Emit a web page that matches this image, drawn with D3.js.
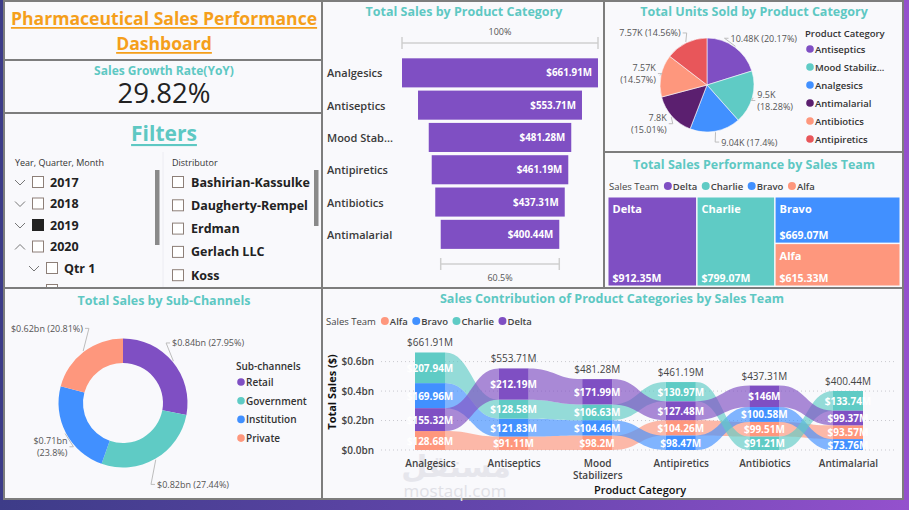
<!DOCTYPE html>
<html>
<head>
<meta charset="utf-8">
<script src="https://cdn.jsdelivr.net/npm/d3@7"></script>
<style>
html, body { margin: 0; padding: 0; }
body { width: 909px; height: 510px; overflow: hidden; background: linear-gradient(90deg, #3d3c88 0%, #6546ad 55%, #9451cd 100%); }
svg { display: block; font-family: "Open Sans", sans-serif; }
</style>
</head>
<body>
<svg id="chart" width="909" height="510"></svg>
<script>
// data
var categories = ['Analgesics', 'Antiseptics', 'Mood Stabilizers', 'Antipiretics', 'Antibiotics', 'Antimalarial'];
var categorySales = [661.91, 553.71, 481.28, 461.19, 437.31, 400.44]; // $M

var pieCategories = ['Antiseptics', 'Mood Stabilizers', 'Analgesics', 'Antimalarial', 'Antibiotics', 'Antipiretics'];
var unitsSold = ['10.48K', '9.5K', '9.04K', '7.8K', '7.57K', '7.57K'];
var unitsPct = [20.17, 18.28, 17.4, 15.01, 14.57, 14.56];

var teams = ['Delta', 'Charlie', 'Bravo', 'Alfa'];
var teamSales = [912.35, 799.07, 669.07, 615.33]; // $M

var subChannels = ['Retail', 'Government', 'Institution', 'Private'];
var channelSales = [0.84, 0.82, 0.71, 0.62]; // $bn
var channelPct = [27.95, 27.44, 23.8, 20.81];

var ribbonTeams = ['Alfa', 'Bravo', 'Charlie', 'Delta'];
var alfaSales = [128.68, 91.11, 98.2, 104.26, 99.51, 93.57];
var bravoSales = [169.96, 121.83, 104.46, 98.47, 100.58, 73.76];
var charlieSales = [207.94, 128.58, 106.63, 130.97, 91.21, 133.74];
var deltaSales = [155.32, 212.19, 171.99, 127.48, 146, 99.37];
var yTicks = [0, 0.2, 0.4, 0.6]; // $bn

var years = ['2017', '2018', '2019', '2020'];
var distributors = ['Bashirian-Kassulke', 'Daugherty-Rempel', 'Erdman', 'Gerlach LLC', 'Koss'];

var C = {purple: '#7f4fc3', teal: '#5fcbc5', blue: '#4190ff', dark: '#5b1f6f', salmon: '#fe977d', red: '#e8565a'};
var pieColors = [C.purple, C.teal, C.blue, C.dark, C.salmon, C.red];
var teamColor = {Delta: C.purple, Charlie: C.teal, Bravo: C.blue, Alfa: C.salmon};
var channelColors = [C.purple, C.teal, C.blue, C.salmon];
var titleCol = '#5ec8c3';

var svg = d3.select('#chart');

function text(g, x, y, s, o) {
  o = o || {};
  return g.append('text')
    .attr('x', x).attr('y', y)
    .attr('font-size', o.size || 10)
    .attr('font-weight', o.weight || 400)
    .attr('fill', o.fill || '#333')
    .attr('text-anchor', o.anchor || 'start')
    .attr('dominant-baseline', 'central')
    .text(s);
}

// cut a label with "..." until it fits
function fit(t, maxW) {
  var s = t.text();
  if (t.node().getComputedTextLength() <= maxW) return;
  while (s.length > 1) {
    s = s.slice(0, -1);
    t.text(s.trim() + '...');
    if (t.node().getComputedTextLength() <= maxW) return;
  }
}

function inlineLegend(g, x, y, title, names, cols) {
  var t = text(g, x, y, title, {size: 9.5, fill: '#444'});
  var cx = x + t.node().getComputedTextLength() + 9;
  names.forEach(function(n, i) {
    g.append('circle').attr('cx', cx).attr('cy', y).attr('r', 4).attr('fill', cols[i]);
    var tt = text(g, cx + 5, y, n, {size: 9.5, weight: 600, fill: '#444'});
    cx += 5 + tt.node().getComputedTextLength() + 8.5;
  });
}

function listLegend(g, x, y, title, names, cols, step, size, maxW) {
  text(g, x, y, title, {size: size, weight: 600, fill: '#333'});
  names.forEach(function(n, i) {
    var yy = y + 16 + i * step;
    g.append('circle').attr('cx', x + 5).attr('cy', yy).attr('r', 3.8).attr('fill', cols[i]);
    var t = text(g, x + 10, yy, n, {size: size, weight: 600, fill: '#333'});
    if (maxW) fit(t, maxW);
  });
}

// panels
var panels = [
  [4, 1, 318, 59], [4, 60, 318, 53], [4, 113, 318, 175],
  [322, 1, 282, 287], [604, 1, 299, 151], [604, 152, 299, 136],
  [4, 288, 318, 211], [322, 288, 581, 211]
];
svg.selectAll('rect.panel').data(panels).enter()
  .append('rect').attr('class', 'panel')
  .attr('x', d => d[0]).attr('y', d => d[1])
  .attr('width', d => d[2]).attr('height', d => d[3])
  .attr('fill', '#f9f9fc').attr('stroke', '#7d7d7d').attr('stroke-width', 2);

// ---------- title ----------
text(svg, 164, 18, 'Pharmaceutical Sales Performance', {size: 17.6, weight: 700, fill: '#f59f1b', anchor: 'middle'})
  .attr('text-decoration', 'underline');
text(svg, 164, 43, 'Dashboard', {size: 17.6, weight: 700, fill: '#f59f1b', anchor: 'middle'})
  .attr('text-decoration', 'underline');

// ---------- growth card ----------
text(svg, 164, 70, 'Sales Growth Rate(YoY)', {size: 12, weight: 700, fill: titleCol, anchor: 'middle'});
text(svg, 164, 92, '29.82%', {size: 27.5, fill: '#222', anchor: 'middle'});

// ---------- filters ----------
svg.append('clipPath').attr('id', 'fclip').append('rect').attr('x', 5).attr('y', 114).attr('width', 316).attr('height', 173);
var fl = svg.append('g').attr('clip-path', 'url(#fclip)');
text(fl, 164, 133, 'Filters', {size: 21, weight: 700, fill: titleCol, anchor: 'middle'})
  .attr('text-decoration', 'underline');
fl.append('line').attr('x1', 163).attr('x2', 163).attr('y1', 152).attr('y2', 287).attr('stroke', '#ececf2');

function chevron(g, x, y, up) {
  var d = up ? `M${x - 5},${y + 3}L${x},${y - 2}L${x + 5},${y + 3}` : `M${x - 5},${y - 2}L${x},${y + 3}L${x + 5},${y - 2}`;
  g.append('path').attr('d', d).attr('fill', 'none').attr('stroke', '#777').attr('stroke-width', 1);
}
function checkbox(g, x, y, on) {
  g.append('rect').attr('x', x + 0.5).attr('y', y - 5.5).attr('width', 11).attr('height', 11)
    .attr('fill', on ? '#222' : '#fff').attr('stroke', on ? '#222' : '#8d7f78');
}

text(fl, 15, 162, 'Year, Quarter, Month', {size: 9, fill: '#333'});
years.forEach(function(yr, i) {
  var y = 182 + i * 21.5;
  chevron(fl, 20, y, yr === '2020');
  checkbox(fl, 32, y, yr === '2019');
  text(fl, 50, y, yr, {size: 12.5, weight: 700, fill: '#222'});
});
chevron(fl, 34, 268, false);
checkbox(fl, 46, 268, false);
text(fl, 64, 268, 'Qtr 1', {size: 12.5, weight: 700, fill: '#222'});
checkbox(fl, 46, 290, false);
fl.append('rect').attr('x', 155).attr('y', 170).attr('width', 4.5).attr('height', 75).attr('fill', '#8a8a8a');

text(fl, 172, 162, 'Distributor', {size: 9, fill: '#333'});
distributors.forEach(function(n, i) {
  var y = 182 + i * 23.3;
  checkbox(fl, 172, y, false);
  text(fl, 191, y, n, {size: 12.5, weight: 700, fill: '#222'});
});
fl.append('rect').attr('x', 314).attr('y', 170).attr('width', 4.5).attr('height', 56).attr('fill', '#8a8a8a');

// ---------- funnel ----------
var fn = svg.append('g');
text(fn, 464, 11, 'Total Sales by Product Category', {size: 12.5, weight: 700, fill: titleCol, anchor: 'middle'});
var fxs = d3.scaleLinear().domain([0, d3.max(categorySales)]).range([0, 196]);
var fys = d3.scaleBand().domain(categories).range([56.7, 250.5]).paddingInner(0.1).paddingOuter(0.05);
var fcx = 500;

function bracket(g, w, y, lab, ly) {
  g.append('path').attr('d', `M${fcx - w / 2},${y - 6}V${y + 6}M${fcx - w / 2},${y}H${fcx + w / 2}M${fcx + w / 2},${y - 6}V${y + 6}`)
    .attr('fill', 'none').attr('stroke', '#cfcfcf').attr('stroke-width', 1.5);
  text(g, fcx, ly, lab, {size: 9, fill: '#555', anchor: 'middle'});
}
bracket(fn, fxs(categorySales[0]), 43, '100%', 31);
var last = categorySales[categorySales.length - 1];
bracket(fn, fxs(last), 264, (last / categorySales[0] * 100).toFixed(1) + '%', 277);

fn.selectAll('rect.fbar').data(categories).enter()
  .append('rect').attr('class', 'fbar')
  .attr('x', (d, i) => fcx - fxs(categorySales[i]) / 2)
  .attr('y', d => fys(d))
  .attr('width', (d, i) => fxs(categorySales[i]))
  .attr('height', fys.bandwidth())
  .attr('fill', C.purple);
categories.forEach(function(c, i) {
  var yc = fys(c) + fys.bandwidth() / 2;
  var t = text(fn, 327, yc, c, {size: 11, weight: 600, fill: '#3a3a3a'});
  fit(t, 67);
  text(fn, fcx + fxs(categorySales[i]) / 2 - 6, yc, '$' + categorySales[i] + 'M', {size: 9.8, weight: 700, fill: '#fff', anchor: 'end'});
});

// ---------- pie ----------
var pg = svg.append('g');
text(pg, 754, 11, 'Total Units Sold by Product Category', {size: 12.5, weight: 700, fill: titleCol, anchor: 'middle'});
var pcx = 707, pcy = 85, pr = 47;
var pie = d3.pie().sort(null).value(d => d);
var parcs = pie(unitsPct);
var parc = d3.arc().innerRadius(0).outerRadius(pr);
pg.selectAll('path.slice').data(parcs).enter()
  .append('path').attr('class', 'slice')
  .attr('transform', `translate(${pcx},${pcy})`)
  .attr('d', parc)
  .attr('fill', (d, i) => pieColors[i])
  .attr('stroke', '#f9f9fc').attr('stroke-width', 0.6);

// outside labels with leader lines; a label that would run into the legend slides back
function outsideLabels(g, arcs, cx, cy, r, rx, ry, maxX, lines) {
  arcs.forEach(function(a, i) {
    var m = (a.startAngle + a.endAngle) / 2;
    var s = Math.sin(m), c = Math.cos(m);
    var ax = cx + s * rx, ay = cy - c * ry;
    var right = s >= 0;
    var ex = ax + (right ? 4 : -4);
    var lead = g.append('path')
      .attr('fill', 'none').attr('stroke', '#bdbdbd').attr('stroke-width', 1);
    var ls = lines(i, s);
    var tx = ex + (right ? 2 : -2);
    var ts = ls.map(function(l, k) {
      return text(g, tx, ay + (k - (ls.length - 1) / 2) * 12, l,
        {size: 9, fill: '#555', anchor: right ? 'start' : 'end'});
    });
    if (right) {
      var w = d3.max(ts, t => t.node().getComputedTextLength());
      if (tx + w > maxX) {
        tx = maxX - w;
        ts.forEach(t => t.attr('x', tx));
        ax = Math.min(ax, tx - 6);
        ex = tx - 2;
      }
    }
    lead.attr('d', `M${cx + s * (r + 1)},${cy - c * (r + 1)}L${ax},${ay}L${ex},${ay}`);
  });
}
outsideLabels(pg, parcs, pcx, pcy, pr, 46, 58, 797, function(i, s) {
  var a = unitsSold[i], b = '(' + unitsPct[i] + '%)';
  return Math.abs(s) > 0.7 ? [a, b] : [a + ' ' + b];
});
listLegend(pg, 805, 33, 'Product Category', pieCategories, pieColors, 18, 9.5, 70);

// ---------- treemap ----------
var tg = svg.append('g');
text(tg, 754, 164, 'Total Sales Performance by Sales Team', {size: 12.5, weight: 700, fill: titleCol, anchor: 'middle'});
inlineLegend(tg, 609, 186, 'Sales Team', teams, teams.map(t => teamColor[t]));
var treeRoot = d3.hierarchy({children: [
  {name: teams[0], value: teamSales[0]},
  {name: teams[1], value: teamSales[1]},
  {children: [{name: teams[2], value: teamSales[2]}, {name: teams[3], value: teamSales[3]}]}
]}).sum(d => d.value || 0);
d3.treemap().size([291, 88]).tile(d3.treemapSliceDice).paddingInner(1.5)(treeRoot);
var tleaf = tg.append('g').attr('transform', 'translate(608.5,197.5)')
  .selectAll('g').data(treeRoot.leaves()).enter().append('g');
tleaf.append('rect')
  .attr('x', d => d.x0).attr('y', d => d.y0)
  .attr('width', d => d.x1 - d.x0).attr('height', d => d.y1 - d.y0)
  .attr('fill', d => teamColor[d.data.name]);
tleaf.append('text').attr('x', d => d.x0 + 4).attr('y', d => d.y0 + 11)
  .attr('dominant-baseline', 'central').attr('font-size', 11).attr('font-weight', 700).attr('fill', '#fff')
  .text(d => d.data.name);
tleaf.append('text').attr('x', d => d.x0 + 4).attr('y', d => d.y1 - 8)
  .attr('dominant-baseline', 'central').attr('font-size', 10.5).attr('font-weight', 700).attr('fill', '#fff')
  .text(d => '$' + d.data.value + 'M');

// ---------- donut ----------
var dg = svg.append('g');
text(dg, 164, 300, 'Total Sales by Sub-Channels', {size: 12.5, weight: 700, fill: titleCol, anchor: 'middle'});
var dcx = 123, dcy = 403, dr = 64.5;
var darcs = pie(channelPct);
var darc = d3.arc().innerRadius(40).outerRadius(dr);
dg.selectAll('path.dslice').data(darcs).enter()
  .append('path').attr('class', 'dslice')
  .attr('transform', `translate(${dcx},${dcy})`)
  .attr('d', darc)
  .attr('fill', (d, i) => channelColors[i]);
outsideLabels(dg, darcs, dcx, dcy, dr, 56, 94, 318, function(i, s) {
  var a = '$' + channelSales[i] + 'bn', b = '(' + channelPct[i] + '%)';
  return (s < -0.8) ? [a, b] : [a + ' ' + b];
});
listLegend(dg, 236, 366, 'Sub-channels', subChannels, channelColors, 18.7, 10);

// ---------- ribbon chart ----------
var rg = svg.append('g');
// site watermark
text(rg, 456, 466, 'مستقل', {size: 30, weight: 700, fill: '#e6e6ec', anchor: 'middle'}).attr('font-family', 'DejaVu Sans');
text(rg, 455, 490, 'mostaql.com', {size: 17, fill: '#e0e0e6', anchor: 'middle'});

text(rg, 612, 298, 'Sales Contribution of Product Categories by Sales Team', {size: 12.5, weight: 700, fill: titleCol, anchor: 'middle'});
inlineLegend(rg, 326, 321, 'Sales Team', ribbonTeams, ribbonTeams.map(t => teamColor[t]));

var rxs = d3.scalePoint().domain(categories).range([430, 848]);
var rys = d3.scaleLinear().domain([0, 0.6]).range([450, 361.6]);
var colW = 30;

// gridlines
rg.selectAll('line.grid').data(yTicks).enter()
  .append('line').attr('class', 'grid')
  .attr('x1', 381).attr('x2', 897)
  .attr('y1', d => rys(d)).attr('y2', d => rys(d))
  .attr('stroke', '#c9c9cf').attr('stroke-dasharray', '1,3');

var yAxis = d3.axisLeft(rys).tickValues(yTicks).tickSize(0).tickPadding(0)
  .tickFormat(d => '$' + d.toFixed(1) + 'bn');
var yag = rg.append('g').attr('transform', 'translate(374,0)').call(yAxis);
yag.select('.domain').remove();
yag.selectAll('text').attr('font-family', '"Open Sans", sans-serif').attr('font-size', 10)
  .attr('font-weight', 600).attr('fill', '#444');

var xAxis = d3.axisBottom(rxs).tickSize(0).tickPadding(0);
var xag = rg.append('g').attr('transform', 'translate(0,460)').call(xAxis);
xag.select('.domain').remove();
xag.selectAll('text').attr('font-family', '"Open Sans", sans-serif').attr('font-size', 10)
  .attr('font-weight', 600).attr('fill', '#444')
  .each(function(d) {
    var t = d3.select(this);
    if (this.getComputedTextLength() > 75) {
      var w = d.split(' ');
      t.text(null);
      w.forEach(function(p, k) { t.append('tspan').attr('x', 0).attr('dy', k ? '1.2em' : '0.71em').text(p); });
    }
  });

text(rg, 331, 392, 'Total Sales ($)', {size: 11, weight: 700, fill: '#111', anchor: 'middle'})
  .attr('transform', 'rotate(-90,331,392)');
text(rg, 640, 489, 'Product Category', {size: 11, weight: 600, fill: '#111', anchor: 'middle'});

// stack each column, smallest at the bottom
var series = {Alfa: alfaSales, Bravo: bravoSales, Charlie: charlieSales, Delta: deltaSales};
var stacks = categories.map(function(c, i) {
  var order = ribbonTeams.slice().sort((a, b) => series[a][i] - series[b][i]);
  var acc = 0, out = {};
  order.forEach(function(t) {
    out[t] = {y0: acc, y1: acc + series[t][i], v: series[t][i]};
    acc += series[t][i];
  });
  return out;
});

function ry(v) { return rys(v / 1000); }
function ribbonPath(xa, a, xb, b) {
  var m = (xa + xb) / 2;
  return `M${xa},${ry(a.y1)}C${m},${ry(a.y1)} ${m},${ry(b.y1)} ${xb},${ry(b.y1)}` +
    `L${xb},${ry(b.y0)}C${m},${ry(b.y0)} ${m},${ry(a.y0)} ${xa},${ry(a.y0)}Z`;
}

ribbonTeams.forEach(function(t) {
  for (var i = 0; i < categories.length - 1; i++) {
    rg.append('path')
      .attr('d', ribbonPath(rxs(categories[i]) + colW / 2, stacks[i][t], rxs(categories[i + 1]) - colW / 2, stacks[i + 1][t]))
      .attr('fill', teamColor[t]).attr('fill-opacity', 0.66);
  }
});

categories.forEach(function(c, i) {
  var cx = rxs(c);
  ribbonTeams.forEach(function(t) {
    var s = stacks[i][t];
    rg.append('rect')
      .attr('x', cx - colW / 2).attr('y', ry(s.y1))
      .attr('width', colW).attr('height', ry(s.y0) - ry(s.y1))
      .attr('fill', teamColor[t]);
  });
  ribbonTeams.forEach(function(t) {
    var s = stacks[i][t];
    text(rg, cx, (ry(s.y0) + ry(s.y1)) / 2, '$' + s.v + 'M', {size: 10, weight: 700, fill: '#fff', anchor: 'middle'});
  });
  text(rg, cx, ry(categorySales[i]) - 10, '$' + categorySales[i] + 'M', {size: 10, fill: '#444', anchor: 'middle'});
});
</script>
</body>
</html>
